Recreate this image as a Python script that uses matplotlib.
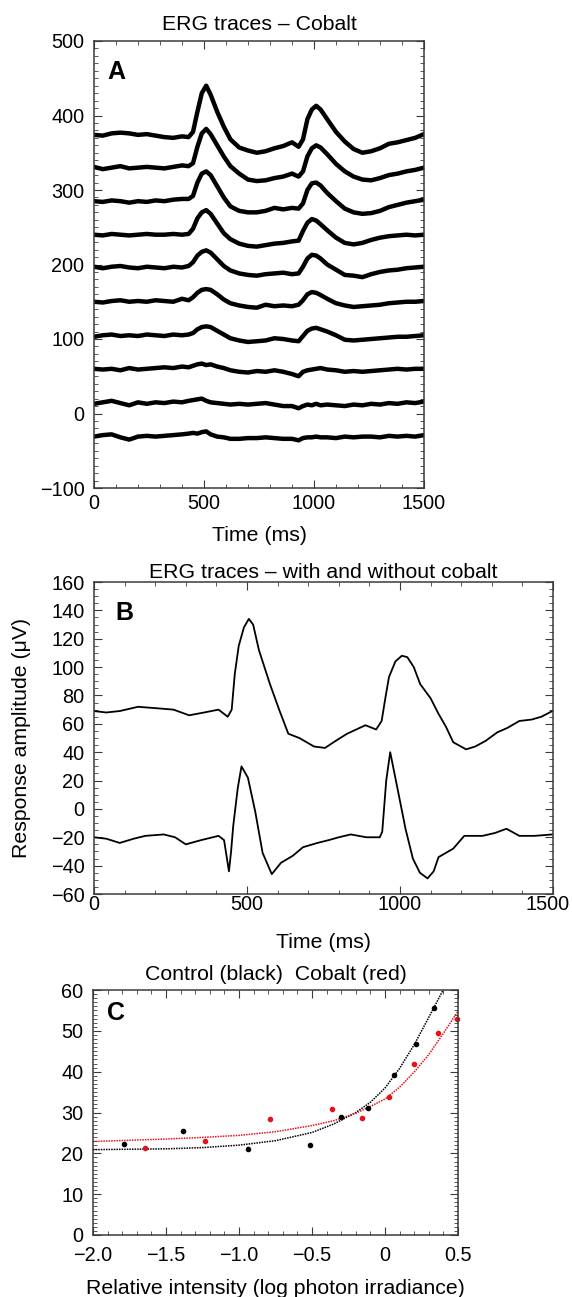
import matplotlib
matplotlib.use('Agg')
import matplotlib.pyplot as plt
from matplotlib.ticker import MultipleLocator, FixedLocator, FixedFormatter

plt.rcParams['font.family'] = ['Liberation Sans', 'DejaVu Sans']

# ---------------- Panel A data: ERG traces with cobalt (stacked) ----------------
tA = [0, 40, 80, 120, 160, 200, 240, 280, 320, 360, 400, 430, 450, 470, 490, 510, 530,
      560, 590, 620, 660, 700, 740, 780, 820, 860, 900, 930, 950, 970, 990, 1010, 1030,
      1060, 1100, 1140, 1180, 1220, 1260, 1300, 1340, 1380, 1420, 1460, 1500]

trace1 = [374, 373, 376, 377, 376, 374, 375, 373, 371, 370, 372, 371, 378, 405, 430, 440, 428,
          405, 385, 368, 357, 353, 350, 352, 356, 359, 364, 358, 368, 395, 408, 413, 408,
          395, 378, 365, 355, 350, 352, 356, 362, 364, 367, 370, 375]
trace2 = [331, 328, 330, 332, 329, 330, 331, 330, 329, 331, 333, 332, 336, 358, 376, 382, 375,
          360, 345, 332, 322, 314, 312, 313, 316, 318, 322, 318, 325, 345, 356, 360, 357,
          348, 335, 325, 318, 314, 313, 316, 320, 322, 325, 327, 330]
trace3 = [285, 284, 286, 285, 283, 285, 284, 286, 285, 287, 288, 288, 292, 310, 322, 325, 320,
          305, 290, 278, 272, 270, 270, 272, 276, 274, 276, 275, 282, 300, 309, 310, 306,
          296, 285, 275, 270, 268, 269, 272, 277, 280, 283, 285, 287]
trace4 = [240, 239, 241, 240, 239, 240, 241, 240, 240, 241, 240, 241, 248, 262, 270, 273, 268,
          255, 242, 234, 228, 225, 224, 226, 228, 229, 231, 232, 245, 256, 261, 259, 254,
          246, 236, 229, 227, 229, 233, 236, 238, 239, 240, 239, 240]
trace5 = [197, 195, 197, 198, 196, 195, 197, 196, 195, 197, 196, 198, 203, 212, 217, 219, 216,
          207, 198, 192, 188, 186, 185, 187, 188, 189, 187, 188, 197, 208, 213, 212, 208,
          200, 193, 186, 185, 183, 187, 190, 192, 193, 195, 196, 197]
trace6 = [150, 149, 151, 152, 150, 151, 150, 152, 151, 150, 154, 152, 156, 162, 166, 167, 166,
          160, 153, 148, 145, 143, 142, 146, 144, 145, 144, 146, 152, 160, 163, 162, 159,
          154, 148, 145, 143, 144, 145, 146, 148, 149, 150, 150, 151]
trace7 = [103, 105, 106, 104, 105, 104, 106, 105, 104, 106, 105, 106, 108, 113, 116, 117, 116,
          111, 106, 101, 98, 96, 97, 98, 101, 100, 98, 97, 104, 111, 114, 115, 113,
          110, 105, 99, 98, 99, 100, 101, 102, 103, 103, 104, 105]
trace8 = [60, 59, 60, 58, 61, 59, 60, 61, 62, 61, 63, 62, 64, 66, 67, 65, 66,
          63, 61, 58, 56, 55, 57, 56, 58, 56, 53, 50, 56, 58, 59, 60, 61,
          59, 58, 56, 57, 56, 57, 58, 59, 60, 59, 60, 60]
trace9 = [13, 15, 17, 14, 11, 15, 13, 15, 14, 16, 15, 17, 18, 19, 20, 17, 15,
          14, 13, 12, 13, 12, 13, 14, 12, 10, 10, 7, 10, 12, 11, 13, 11,
          12, 11, 10, 12, 11, 13, 12, 14, 13, 15, 14, 16]
trace10 = [-31, -29, -28, -32, -35, -31, -30, -31, -30, -29, -28, -27, -26, -27, -25, -24, -28,
           -31, -32, -34, -34, -33, -33, -32, -33, -34, -34, -36, -33, -32, -32, -31, -32,
           -32, -33, -31, -32, -31, -31, -32, -30, -31, -30, -31, -29]
tracesA = [trace1, trace2, trace3, trace4, trace5, trace6, trace7, trace8, trace9, trace10]

# ---------------- Panel B data: with and without cobalt ----------------
tB_top = [0, 40, 84, 144, 204, 260, 311, 360, 407, 437, 450, 460, 473, 490, 506, 520, 539,
          575, 605, 635, 671, 719, 755, 790, 827, 887, 922, 940, 952, 964, 985, 1006, 1024,
          1045, 1066, 1100, 1126, 1150, 1174, 1216, 1246, 1280, 1318, 1350, 1390, 1430, 1462, 1498]
vB_top = [69, 68, 69, 72, 71, 70, 66, 68, 70, 65, 70, 95, 115, 128, 134, 130, 112,
          88, 70, 53, 50, 44, 43, 48, 53, 59, 56, 62, 78, 93, 104, 108, 107,
          100, 88, 78, 67, 58, 47, 42, 44, 48, 54, 57, 62, 63, 65, 69]
tB_bot = [0, 40, 84, 130, 168, 228, 265, 300, 350, 407, 425, 441, 448, 455, 470, 482, 503,
          527, 551, 581, 611, 650, 683, 730, 767, 800, 839, 890, 934, 942, 955, 968, 994,
          1018, 1042, 1065, 1090, 1110, 1126, 1150, 1174, 1210, 1240, 1270, 1310, 1348, 1390, 1440, 1498]
vB_bot = [-20, -21, -24, -21, -19, -18, -20, -25, -22, -19, -22, -44, -30, -12, 15, 30, 22,
          -2, -31, -46, -38, -33, -27, -24, -22, -20, -18, -20, -20, -16, 20, 40, 12,
          -14, -35, -45, -49, -44, -34, -31, -28, -19, -19, -19, -17, -14, -19, -19, -18]
time_ticks = [0, 500, 1000, 1500]
time_tick_labels = ['0', '500', '1000', '1500']

# ---------------- Panel C data: intensity-response ----------------
control_x = [-1.79, -1.386, -0.939, -0.513, -0.30, -0.119, 0.061, 0.212, 0.339]
control_y = [22.3, 25.5, 21.0, 22.0, 28.9, 31.1, 39.2, 46.8, 55.5]
cobalt_x = [-1.644, -1.235, -0.791, -0.365, -0.157, 0.026, 0.20, 0.36, 0.49]
cobalt_y = [21.4, 22.9, 28.3, 30.8, 28.6, 33.9, 41.9, 49.5, 52.8]
control_fit_x = [-2.0, -1.75, -1.5, -1.25, -1.0, -0.75, -0.5, -0.35, -0.2, -0.1, 0.0, 0.1, 0.2, 0.3, 0.42]
control_fit_y = [20.9, 21.0, 21.1, 21.4, 22.0, 23.1, 25.1, 27.2, 30.0, 32.5, 36.0, 40.8, 46.6, 53.3, 61.5]
cobalt_fit_x = [-2.0, -1.75, -1.5, -1.25, -1.0, -0.75, -0.5, -0.35, -0.2, -0.1, 0.0, 0.1, 0.2, 0.3, 0.4, 0.5]
cobalt_fit_y = [22.9, 23.2, 23.5, 23.9, 24.4, 25.3, 26.8, 28.0, 29.8, 31.5, 33.3, 36.2, 39.9, 44.2, 49.4, 54.8]
c_xticks = [-2.0, -1.5, -1.0, -0.5, 0.0, 0.5]
c_xtick_labels = ['\u22122.0', '\u22121.5', '\u22121.0', '\u22120.5', '0', '0.5']

W, H = 572, 1297
fig = plt.figure(figsize=(W / 100, H / 100), dpi=100)

TICK_FS = 14.3
LABEL_FS = 15.3
LETTER_FS = 18


def box(l, t, r, b):
    return [l / W, 1 - b / H, (r - l) / W, (b - t) / H]


axA = fig.add_axes(box(94, 41, 424, 488))
axB = fig.add_axes(box(94, 582, 553, 894))
axC = fig.add_axes(box(93, 990, 458, 1235))

frame = '#3a3a3a'


def style(ax, xpad, ypad=7):
    for s in ax.spines.values():
        s.set_color(frame)
        s.set_linewidth(1.1)
    ax.tick_params(which='both', direction='in', top=True, right=True, colors=frame,
                   labelcolor='black', labelsize=TICK_FS)
    ax.tick_params(which='major', length=5.5, width=0.8)
    ax.tick_params(which='minor', length=2.8, width=0.6)
    ax.tick_params(axis='x', pad=xpad)
    ax.tick_params(axis='y', pad=ypad)


# Panel A
for tr in tracesA:
    axA.plot(tA, tr, color='black', lw=3.2)
axA.set_xlim(0, 1500)
axA.set_ylim(-100, 500)
axA.xaxis.set_major_locator(FixedLocator(time_ticks))
axA.xaxis.set_major_formatter(FixedFormatter(time_tick_labels))
axA.xaxis.set_minor_locator(MultipleLocator(100))
axA.yaxis.set_major_locator(MultipleLocator(100))
axA.yaxis.set_minor_locator(MultipleLocator(10))
style(axA, xpad=4.5)
axA.set_title('ERG traces \u2013 Cobalt', fontsize=LABEL_FS, pad=8)
axA.set_xlabel('Time (ms)', fontsize=LABEL_FS, labelpad=9)
axA.text(0.04, 0.957, 'A', transform=axA.transAxes, fontsize=LETTER_FS, fontweight='bold',
         va='top', ha='left')

# Panel B
axB.plot(tB_top, vB_top, color='black', lw=1.3)
axB.plot(tB_bot, vB_bot, color='black', lw=1.3)
axB.set_xlim(0, 1500)
axB.set_ylim(-60, 160)
axB.xaxis.set_major_locator(FixedLocator(time_ticks))
# last label is drawn separately, nudged left so it stays inside the figure
axB.xaxis.set_major_formatter(FixedFormatter(time_tick_labels[:-1] + ['']))
axB.xaxis.set_minor_locator(MultipleLocator(100))
axB.yaxis.set_major_locator(MultipleLocator(20))
axB.yaxis.set_minor_locator(MultipleLocator(5))
style(axB, xpad=0.5)
axB.text((570 - 94) / 459, -0.004, time_tick_labels[-1], transform=axB.transAxes,
         ha='right', va='top', fontsize=TICK_FS)
axB.set_title('ERG traces \u2013 with and without cobalt', fontsize=LABEL_FS, pad=3)
axB.set_xlabel('Time (ms)', fontsize=LABEL_FS, labelpad=14)
axB.set_ylabel('Response amplitude (\u03bcV)', fontsize=LABEL_FS, labelpad=14)
axB.text(0.047, 0.94, 'B', transform=axB.transAxes, fontsize=LETTER_FS, fontweight='bold',
         va='top', ha='left')

# Panel C
red = '#e3121b'
axC.plot(control_fit_x, control_fit_y, color='black', lw=1.1, ls=(0, (1, 0.7)))
axC.plot(cobalt_fit_x, cobalt_fit_y, color=red, lw=1.1, ls=(0, (1, 0.7)))
axC.plot(control_x, control_y, 'o', color='black', ms=3.0, clip_on=False)
axC.plot(cobalt_x, cobalt_y, 'o', color=red, ms=3.0, clip_on=False)
axC.set_xlim(-2.0, 0.5)
axC.set_ylim(0, 60)
axC.xaxis.set_major_locator(FixedLocator(c_xticks))
axC.xaxis.set_major_formatter(FixedFormatter(c_xtick_labels))
axC.xaxis.set_minor_locator(MultipleLocator(0.1))
axC.yaxis.set_major_locator(MultipleLocator(10))
axC.yaxis.set_minor_locator(MultipleLocator(1))
style(axC, xpad=8)
axC.set_title('Control (black)  Cobalt (red)', fontsize=LABEL_FS, pad=7)
axC.set_xlabel('Relative intensity (log photon irradiance)', fontsize=LABEL_FS, labelpad=10)
axC.text(0.038, 0.955, 'C', transform=axC.transAxes, fontsize=LETTER_FS, fontweight='bold',
         va='top', ha='left')

fig.savefig('out.png', dpi=100)
